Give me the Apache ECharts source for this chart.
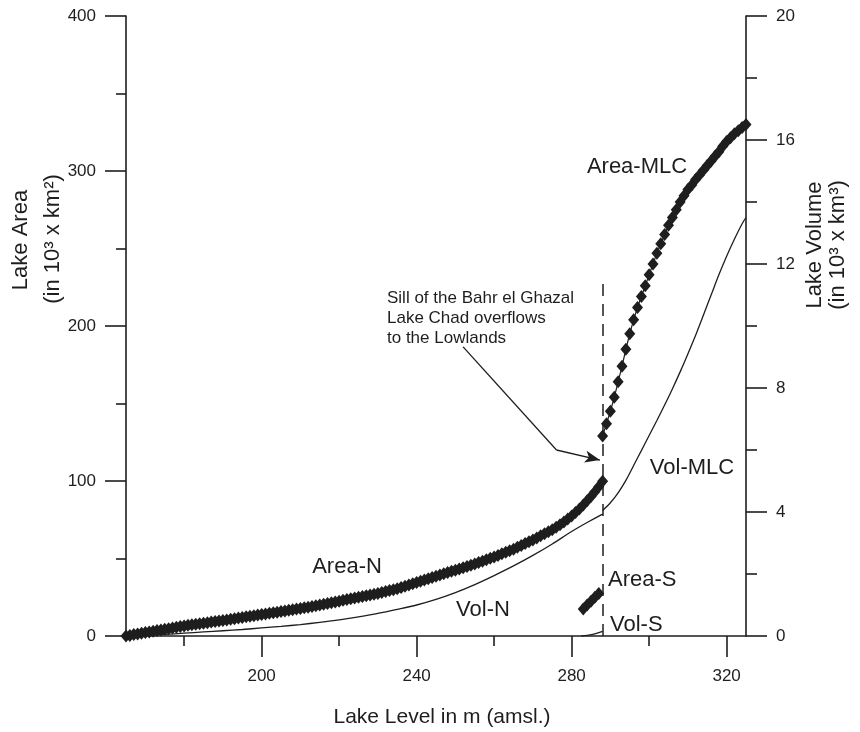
<!DOCTYPE html>
<html><head><meta charset="utf-8">
<script src="https://cdn.jsdelivr.net/npm/echarts@6/dist/echarts.min.js"></script>
<style>html,body{margin:0;padding:0;background:#fff}#c{width:860px;height:732px}</style>
</head><body><div id="c"></div>
<script>
// ---- data (lake level in m amsl) ----
const levelsN = [165,166,167,168,169,170,171,172,173,174,175,176,177,178,179,180,181,182,183,184,185,186,187,188,189,190,191,192,193,194,195,196,197,198,199,200,201,202,203,204,205,206,207,208,209,210,211,212,213,214,215,216,217,218,219,220,221,222,223,224,225,226,227,228,229,230,231,232,233,234,235,236,237,238,239,240,241,242,243,244,245,246,247,248,249,250,251,252,253,254,255,256,257,258,259,260,261,262,263,264,265,266,267,268,269,270,271,272,273,274,275,276,277,278,279,280,281,282,283,284,285,286,287,288];
const areaN = [0.0,0.4,0.9,1.3,1.8, 2.2,2.6,3.0,3.5,3.9, 4.3,4.7,5.2,5.6,6.1, 6.5,6.9,7.2,7.6,7.9, 8.3,8.6,9.0,9.3,9.7, 10.0,10.4,10.8,11.2,11.6, 12.0,12.4,12.8,13.1,13.5, 13.8,14.2,14.6,15.0,15.4, 15.8,16.2,16.6,17.0,17.4, 17.8,18.2,18.6,19.0,19.5, 20.0,20.5,21.0,21.5,22.0, 22.5,23.0,23.5,24.0,24.5, 25.0,25.5,26.0,26.5,27.0, 27.5,28.1,28.7,29.3,29.9, 30.5,31.3,32.1,32.9,33.7, 34.5,35.3,36.1,36.9,37.7, 38.5,39.3,40.1,40.9,41.7, 42.5,43.3,44.1,44.9,45.7, 46.5,47.4,48.3,49.2,50.1, 51.0,52.0,53.0,54.0,55.0, 56.0,57.2,58.4,59.6,60.8, 62.0,63.3,64.6,65.9,67.2, 68.5,70.1,71.8,73.6,75.5, 77.5,79.7,82.0,84.5,87.2, 90.0,93.0,96.3,99.8];
const levelsMLC = [288,289,290,291,292,293,294,295,296,297,298,299,300,301,302,303,304,305,306,307,308,309,310,311,312,313,314,315,316,317,318,319,320,321,322,323,324,325];
const areaMLC = [129,137,145,154,164,174,185,195,204,212,219,226,233,240,247,253,259,265,270,275,280,284,288,291,294.5,297.5,300.5,303.5,306.5,309.5,312.5,316,319,321.5,324,326,328,330];
const levelsS = [283,284,285,286,287];
const areaS = [17.5,20,22.5,25,27.5];
const volLevelsN = [165,170,175,180,185,190,195,200,205,210,215,220,225,230,235,240,245,250,255,260,265,270,275,280,284,288];
const volN = [0,0.02,0.05,0.09,0.13,0.17,0.21,0.26,0.31,0.37,0.44,0.52,0.62,0.73,0.86,1.0,1.18,1.4,1.66,1.95,2.26,2.6,2.97,3.37,3.66,3.93];
const volLevelsMLC = [288,290,292,294,296,298,300,302,304,306,308,310,312,314,316,318,320,322,324,325];
const volMLC = [4.05,4.3,4.62,5.02,5.5,5.98,6.47,6.95,7.45,7.97,8.52,9.1,9.7,10.35,11.0,11.65,12.25,12.8,13.3,13.5];
const volLevelsS = [282.5,284,286,288];
const volS = [0,0.02,0.07,0.15];
const sillLevel = 288;
const sillTop = 231;
const arrowPath = [[252,186.5],[276.1,120],[287.3,113.5]];
const xMajorTicks = [200,240,280,320];
const xMinorTicks = [180,220,260,300];

// ---- chart ----
const INK = '#1e1e1e';
const FONT = '"Liberation Sans", Arial, Helvetica, sans-serif';
const zip = (a, b) => a.map((v, i) => [v, b[i]]);
const chart = echarts.init(document.getElementById('c'), null, {renderer: 'canvas'});

function t(x, y, text, size, align, rot) {
  return {
    type: 'text', x: x, y: y, rotation: rot || 0, silent: true,
    style: {text: text, font: size + 'px ' + FONT, fill: INK,
      align: align || 'center', verticalAlign: 'middle',
      textAlign: align || 'center', textVerticalAlign: 'middle'}
  };
}

const diamondSeries = (name, data) => ({
  name: name, type: 'line', xAxisIndex: 0, yAxisIndex: 0, data: data,
  symbol: 'diamond', symbolSize: [11, 13], showAllSymbol: true,
  lineStyle: {color: INK, width: 1.2}, itemStyle: {color: INK, borderWidth: 0},
  z: 3
});
const volSeries = (name, data) => ({
  name: name, type: 'line', xAxisIndex: 0, yAxisIndex: 1, data: data,
  symbol: 'none', smooth: 0.3, lineStyle: {color: INK, width: 1.3}, z: 2
});

const areaNSeries = diamondSeries('Area-N', zip(levelsN, areaN));
areaNSeries.markLine = {
  silent: true, animation: false, label: {show: false},
  symbol: 'none',
  data: [
    [{coord: [sillLevel, 0], symbol: 'none', lineStyle: {type: [12, 8], color: INK, width: 1.5}},
     {coord: [sillLevel, sillTop], symbol: 'none'}],
    [{coord: arrowPath[0], symbol: 'none', lineStyle: {type: 'solid', color: INK, width: 1.3}},
     {coord: arrowPath[1], symbol: 'none'}],
    [{coord: arrowPath[1], symbol: 'none', lineStyle: {type: 'solid', color: INK, width: 1.3}},
     {coord: arrowPath[2], symbol: 'arrow', symbolSize: [9, 15]}]
  ]
};

const axisLine = {show: true, onZero: false, lineStyle: {color: INK, width: 1.6}};
const labelStyle = {color: INK, fontSize: 17, fontFamily: FONT};

chart.setOption({
  animation: false,
  backgroundColor: '#ffffff',
  grid: {left: 126, right: 114, top: 16, bottom: 96, containLabel: false},
  xAxis: [
    {type: 'value', min: 165, max: 325, position: 'bottom',
     axisLine: axisLine, splitLine: {show: false},
     axisTick: {show: true, length: 21, customValues: xMajorTicks, lineStyle: {color: INK, width: 1.6}},
     axisLabel: Object.assign({show: true, margin: 32, customValues: xMajorTicks}, labelStyle)},
    {type: 'value', min: 165, max: 325, position: 'bottom',
     axisLine: {show: false}, splitLine: {show: false}, axisLabel: {show: false},
     axisTick: {show: true, length: 10, customValues: xMinorTicks, lineStyle: {color: INK, width: 1.6}}}
  ],
  yAxis: [
    {type: 'value', min: 0, max: 400, interval: 100, position: 'left',
     axisLine: axisLine, splitLine: {show: false},
     axisTick: {show: true, length: 21, lineStyle: {color: INK, width: 1.6}},
     minorTick: {show: true, splitNumber: 2, length: 10, lineStyle: {color: INK, width: 1.6}},
     minorSplitLine: {show: false},
     axisLabel: Object.assign({margin: 30}, labelStyle)},
    {type: 'value', min: 0, max: 20, interval: 4, position: 'right',
     axisLine: axisLine, splitLine: {show: false},
     axisTick: {show: true, length: 21, lineStyle: {color: INK, width: 1.6}},
     minorTick: {show: true, splitNumber: 2, length: 11, lineStyle: {color: INK, width: 1.6}},
     minorSplitLine: {show: false},
     axisLabel: Object.assign({margin: 30}, labelStyle)}
  ],
  series: [
    volSeries('Vol-N', zip(volLevelsN, volN)),
    volSeries('Vol-MLC', zip(volLevelsMLC, volMLC)),
    volSeries('Vol-S', zip(volLevelsS, volS)),
    areaNSeries,
    diamondSeries('Area-MLC', zip(levelsMLC, areaMLC)),
    diamondSeries('Area-S', zip(levelsS, areaS))
  ],
  graphic: [
    t(21, 240, 'Lake Area', 22, 'center', Math.PI / 2),
    t(53, 239, '(in 10³ x km²)', 22, 'center', Math.PI / 2),
    t(815, 245, 'Lake Volume', 22, 'center', Math.PI / 2),
    t(838, 245, '(in 10³ x km³)', 22, 'center', Math.PI / 2),
    t(442, 717, 'Lake Level in m (amsl.)', 21, 'center'),
    t(637, 167, 'Area-MLC', 22, 'center'),
    t(347, 567, 'Area-N', 22, 'center'),
    t(483, 610, 'Vol-N', 22, 'center'),
    t(608, 580, 'Area-S', 22, 'left'),
    t(610, 625, 'Vol-S', 22, 'left'),
    t(692, 468, 'Vol-MLC', 22, 'center'),
    t(387, 298, 'Sill of the Bahr el Ghazal', 17, 'left'),
    t(387, 318, 'Lake Chad overflows', 17, 'left'),
    t(387, 338, 'to the Lowlands', 17, 'left')
  ]
});
</script></body></html>
